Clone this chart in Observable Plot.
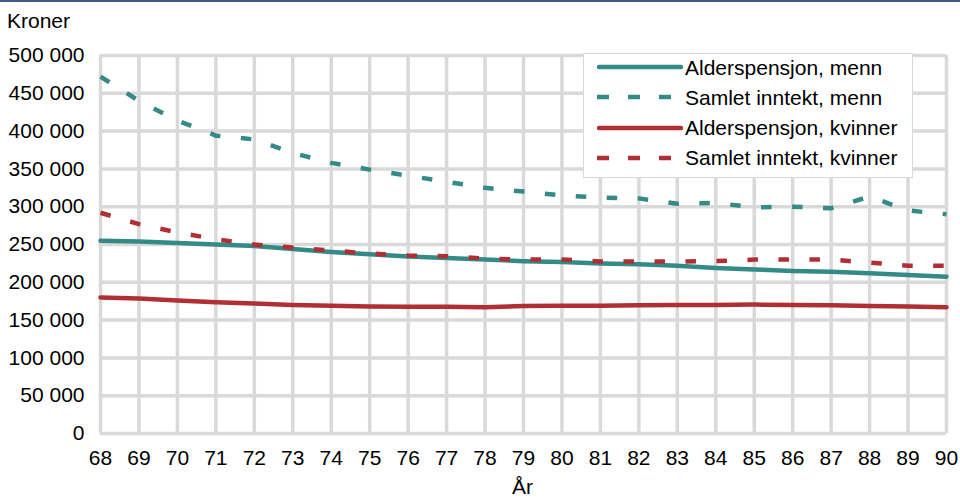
<!DOCTYPE html>
<html>
<head>
<meta charset="utf-8">
<script src="https://cdn.jsdelivr.net/npm/d3@7"></script>
<script src="https://cdn.jsdelivr.net/npm/@observablehq/plot@0.6"></script>
<style>
  html, body { margin: 0; padding: 0; background: #fff; }
  #wrap { position: relative; width: 960px; height: 500px; overflow: hidden; font-family: "Liberation Sans", Arial, sans-serif; color: #000; }
  #topbar { position: absolute; left: 0; top: 0; width: 960px; height: 2px; background: #3d5a88; }
  .lbl { position: absolute; font-size: 21px; line-height: 1; white-space: nowrap; }
  #legend { position: absolute; left: 583px; top: 53px; width: 328px; height: 123px; background: #fff; border: 1.5px solid #d9d9d9; }
  .row { position: absolute; left: 0; height: 30px; display: flex; align-items: center; }
  .row svg { margin-left: 13px; margin-right: 2px; }
  .row span { font-size: 21px; line-height: 1; white-space: nowrap; }
</style>
</head>
<body>
<div id="wrap">
  <div id="chart"></div>
  <div id="topbar"></div>
  <div class="lbl" id="ytitle" style="left:7px; top:10px;">Kroner</div>
  <div class="lbl" id="xtitle" style="left:512px; top:476px;">År</div>
  <div id="legend"></div>
</div>
<script>
const years = [68,69,70,71,72,73,74,75,76,77,78,79,80,81,82,83,84,85,86,87,88,89,90];
const yTicks = [0,50000,100000,150000,200000,250000,300000,350000,400000,450000,500000];
const seriesNames = ["Alderspensjon, menn","Samlet inntekt, menn","Alderspensjon, kvinner","Samlet inntekt, kvinner"];
const seriesColors = ["#338a87","#338a87","#b02f34","#b02f34"];
const seriesDashed = [false,true,false,true];

const alderMenn = [255000,254000,252000,250000,248000,244000,240000,237000,234000,232000,230000,228000,227000,225000,224000,222000,219000,217000,215000,214000,212000,209500,207500];
const samletMenn = [472000,440000,414000,394000,389000,371000,358000,349000,341000,333000,325000,320000,315000,312000,311000,304000,305000,299000,300000,298000,313500,295000,290000];
const alderKvinner = [180000,178500,176000,173500,172000,170000,169000,168000,167500,167500,167000,168500,169000,169000,169500,170000,170000,170500,170000,169500,168500,168000,167000];
const samletKvinner = [292000,277000,266000,257000,250000,246000,242000,238000,235500,234500,231500,230000,230000,227500,227500,227500,228000,230000,230000,230000,226000,222000,222000];

const seriesValues = [alderMenn, samletMenn, alderKvinner, samletKvinner];
const tables = seriesValues.map((vals, i) => years.map((yr, j) => ({year: yr, value: vals[j], series: seriesNames[i]})));

const fmt = d => d3.format(",")(d).replace(/,/g, " ");

const lineMarks = tables.map((t, i) => Plot.line(t, {
  x: "year", y: "value",
  stroke: seriesColors[i],
  strokeWidth: 4.5,
  strokeDasharray: seriesDashed[i] ? "10.5,20.5" : null,
  strokeLinecap: seriesDashed[i] ? "butt" : "round",
  strokeLinejoin: "round"
}));

const chart = Plot.plot({
  width: 960,
  height: 500,
  marginLeft: 100,
  marginRight: 14,
  marginTop: 55,
  marginBottom: 67,
  style: { fontSize: "21px", fontFamily: "'Liberation Sans', Arial, sans-serif", color: "#000", background: "#fff", overflow: "visible" },
  x: { domain: [68, 90], ticks: years, tickFormat: d => String(d), tickSize: 0, tickPadding: 17, label: null },
  y: { domain: [0, 500000], ticks: yTicks, tickFormat: fmt, tickSize: 0, tickPadding: 16, label: null },
  marks: [
    Plot.ruleX(years, { stroke: "#d9d9d9", strokeWidth: 3.5 }),
    Plot.ruleY(yTicks, { stroke: "#d9d9d9", strokeWidth: 3.5 }),
    ...lineMarks
  ]
});
document.getElementById("chart").appendChild(chart);

// Legend
const legend = document.getElementById("legend");
seriesNames.forEach((name, i) => {
  const row = document.createElement("div");
  row.className = "row";
  row.style.top = (-2 + i * 30.3) + "px";
  const ns = "http://www.w3.org/2000/svg";
  const svg = document.createElementNS(ns, "svg");
  svg.setAttribute("width", 86);
  svg.setAttribute("height", 10);
  const ln = document.createElementNS(ns, "line");
  ln.setAttribute("x1", seriesDashed[i] ? 0 : 2);
  ln.setAttribute("x2", seriesDashed[i] ? 86 : 84);
  ln.setAttribute("y1", 5);
  ln.setAttribute("y2", 5);
  ln.setAttribute("stroke", seriesColors[i]);
  ln.setAttribute("stroke-width", 4.5);
  if (seriesDashed[i]) {
    ln.setAttribute("stroke-dasharray", "12,19");
    ln.setAttribute("stroke-linecap", "butt");
  } else {
    ln.setAttribute("stroke-linecap", "round");
  }
  svg.appendChild(ln);
  const span = document.createElement("span");
  span.textContent = name;
  row.appendChild(svg);
  row.appendChild(span);
  legend.appendChild(row);
});
</script>
</body>
</html>
